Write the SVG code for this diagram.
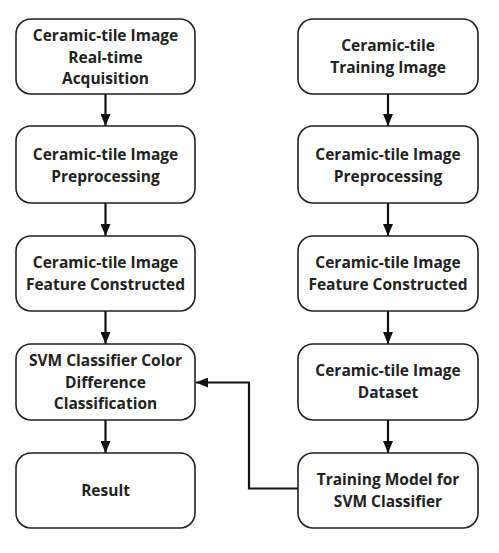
<svg xmlns="http://www.w3.org/2000/svg" width="499" height="553" viewBox="0 0 499 553">
<style>
.box{fill:#fff;stroke:#222;stroke-width:1.6}
.t{font-family:"Open Sans",Lato,"Liberation Sans",sans-serif;font-weight:bold;font-size:15.5px;fill:#222;text-anchor:middle}
.c{fill:none;stroke:#111;stroke-width:2.2}
</style>
<defs>
<marker id="ah" viewBox="0 0 12 10" refX="12" refY="5" markerWidth="12" markerHeight="10" markerUnits="userSpaceOnUse" orient="auto">
<path d="M0,0 L12,5 L0,10 Z" fill="#111"/>
</marker>
</defs>
<rect width="499" height="553" fill="#fff"/>
<g id="connectors">
<line class="c" x1="105.5" y1="94" x2="105.5" y2="126" marker-end="url(#ah)"/>
<line class="c" x1="105.5" y1="203" x2="105.5" y2="236" marker-end="url(#ah)"/>
<line class="c" x1="105.5" y1="311" x2="105.5" y2="344" marker-end="url(#ah)"/>
<line class="c" x1="105.5" y1="420" x2="105.5" y2="453" marker-end="url(#ah)"/>
<line class="c" x1="388" y1="94" x2="388" y2="126" marker-end="url(#ah)"/>
<line class="c" x1="388" y1="203" x2="388" y2="236" marker-end="url(#ah)"/>
<line class="c" x1="388" y1="311" x2="388" y2="344" marker-end="url(#ah)"/>
<line class="c" x1="388" y1="420" x2="388" y2="453" marker-end="url(#ah)"/>
<polyline class="c" points="298,488.5 249,488.5 249,382.5 196,382.5" marker-end="url(#ah)"/>
</g>
<g id="n1"><rect class="box" x="16" y="19" width="179" height="75" rx="15"/>
<text class="t" x="105.5" y="41">Ceramic-tile Image</text><text class="t" x="105.5" y="62.5">Real-time</text><text class="t" x="105.5" y="84">Acquisition</text></g>
<g id="n2"><rect class="box" x="16" y="126" width="179" height="77" rx="15"/>
<text class="t" x="105.5" y="160">Ceramic-tile Image</text><text class="t" x="105.5" y="181.5">Preprocessing</text></g>
<g id="n3"><rect class="box" x="16" y="236" width="179" height="75" rx="15"/>
<text class="t" x="105.5" y="268">Ceramic-tile Image</text><text class="t" x="105.5" y="289.5">Feature Constructed</text></g>
<g id="n4"><rect class="box" x="16" y="344" width="179" height="76" rx="15"/>
<text class="t" x="105.5" y="366">SVM Classifier Color</text><text class="t" x="105.5" y="387.5">Difference</text><text class="t" x="105.5" y="409">Classification</text></g>
<g id="n5"><rect class="box" x="16" y="453" width="179" height="75" rx="15"/>
<text class="t" x="105.5" y="496">Result</text></g>
<g id="r1"><rect class="box" x="298" y="19" width="180" height="75" rx="15"/>
<text class="t" x="388" y="51">Ceramic-tile</text><text class="t" x="388" y="72.5">Training Image</text></g>
<g id="r2"><rect class="box" x="298" y="126" width="180" height="77" rx="15"/>
<text class="t" x="388" y="160">Ceramic-tile Image</text><text class="t" x="388" y="181.5">Preprocessing</text></g>
<g id="r3"><rect class="box" x="298" y="236" width="180" height="75" rx="15"/>
<text class="t" x="388" y="268">Ceramic-tile Image</text><text class="t" x="388" y="289.5">Feature Constructed</text></g>
<g id="r4"><rect class="box" x="298" y="344" width="180" height="76" rx="15"/>
<text class="t" x="388" y="376">Ceramic-tile Image</text><text class="t" x="388" y="397.5">Dataset</text></g>
<g id="r5"><rect class="box" x="298" y="453" width="180" height="75" rx="15"/>
<text class="t" x="388" y="485">Training Model for</text><text class="t" x="388" y="506.5">SVM Classifier</text></g>
</svg>
